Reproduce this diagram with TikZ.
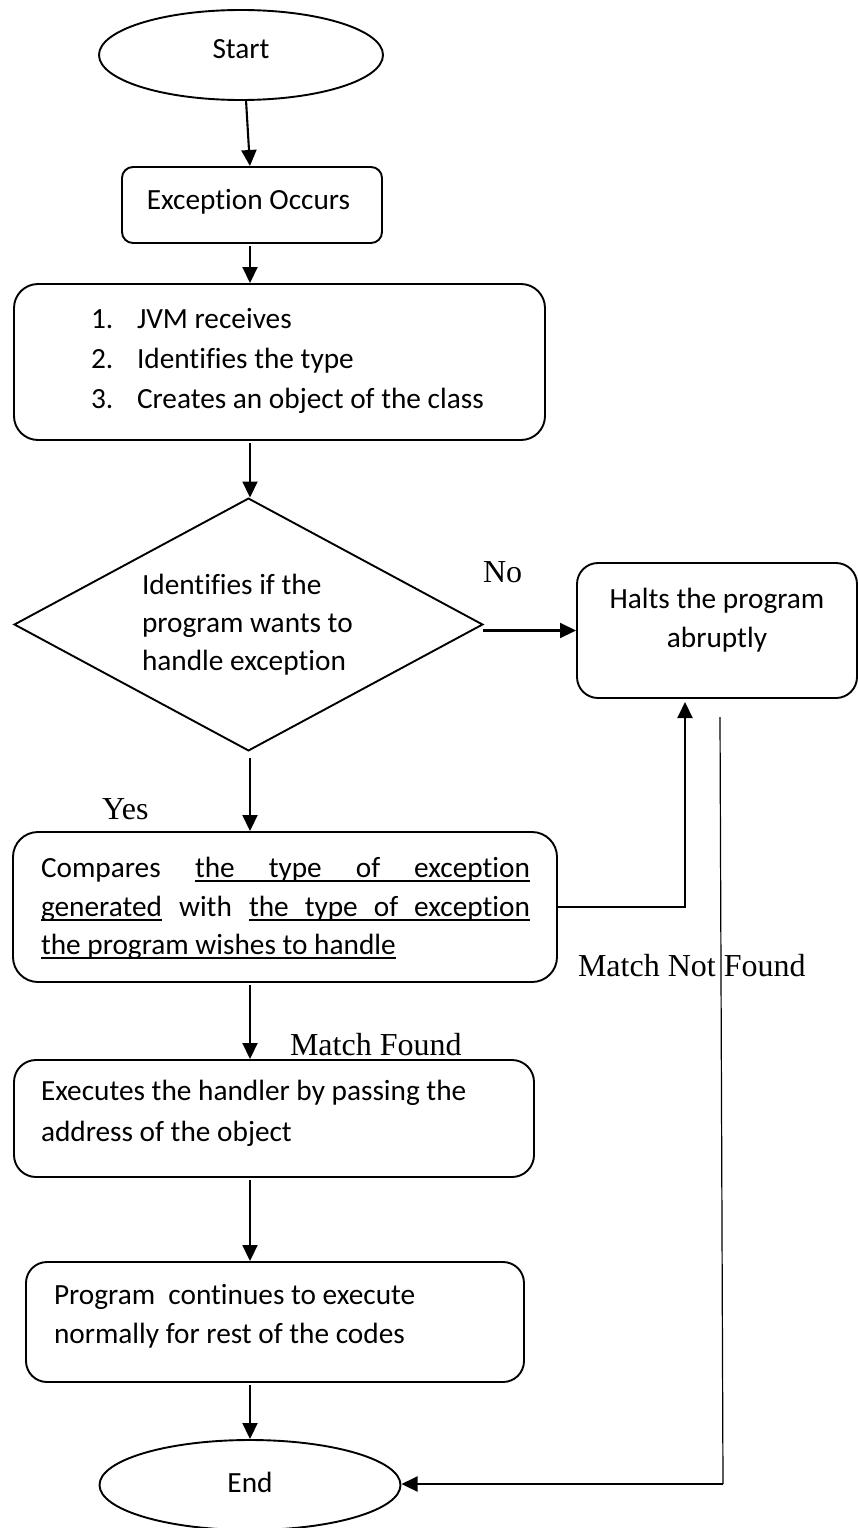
\documentclass[tikz,border=0pt]{standalone}
\usepackage{fontspec}
\setmainfont{Carlito}[Ligatures=NoCommon]
\newfontfamily\tnr{Liberation Serif}
\usetikzlibrary{shapes.geometric,arrows.meta}
% underline at a fixed depth below the baseline
\newcommand\ulbox[1]{\setbox0\hbox{#1}\rlap{\rule[-5pt]{\wd0}{1.8pt}}\box0}

\begin{document}
\begin{tikzpicture}[x=1pt,y=-1pt,
  every node/.style={inner sep=0pt,outer sep=0pt},
  box/.style={draw,line width=1.9pt,rectangle,rounded corners=22pt},
  oval/.style={draw,line width=1.9pt,ellipse},
  arr/.style={line width=2.1pt,-{Triangle[length=16pt,width=15pt]},shorten <=3pt,shorten >=1pt},
  txt/.style={anchor=base west,font=\fontsize{29.3}{39}\selectfont},
  ctxt/.style={anchor=base,font=\fontsize{29.3}{39}\selectfont},
  lbl/.style={anchor=base west,font=\tnr\fontsize{32}{38}\selectfont}]
\useasboundingbox (0,0) rectangle (858,1528);
\fill[white] (0,0) rectangle (858,1528);

\coordinate (col) at (250,0);
\coordinate (nfcol) at (685,0);

% shapes
\node[oval,minimum width=284pt,minimum height=90pt] (start) at (241,55) {};
\node[box,rounded corners=11pt,minimum width=260pt,minimum height=76pt] (exc) at (252,205) {};
\node[box,rounded corners=24pt,minimum width=531pt,minimum height=156pt] (jvm) at (279.5,362) {};
\node[draw,diamond,line width=1.9pt,minimum width=468pt,minimum height=252pt] (dia) at (248.5,624.5) {};
\node[box,rounded corners=21pt,minimum width=280pt,minimum height=135pt] (halts) at (717,630.5) {};
\node[box,rounded corners=25pt,minimum width=544pt,minimum height=150pt] (cmp) at (285,907) {};
\node[box,rounded corners=22pt,minimum width=520pt,minimum height=117pt] (exe) at (274,1118.5) {};
\node[box,rounded corners=21pt,minimum width=498pt,minimum height=120pt] (prog) at (275,1322) {};
\node[oval,minimum width=301pt,minimum height=90pt] (end) at (250,1485) {};

% texts
\node[ctxt] (startt) at (241,59) {Start};
\node[ctxt] (exct) at (248.5,209) {Exception Occurs};
\node[txt] (n1) at (91,328) {1.};
\node[txt] (n2) at (91,368) {2.};
\node[txt] (n3) at (91,408) {3.};
\node[txt] (j1) at (137,328) {JVM receives};
\node[txt] (j2) at (137,368) {Identifies the type};
\node[txt] (j3) at (137,408) {Creates an object of the class};
\node[txt] (d1) at (142,594) {Identifies if the};
\node[txt] (d2) at (142,632) {program wants to};
\node[txt] (d3) at (142,670) {handle exception};
\node[ctxt] (h1) at (717,608) {Halts the program};
\node[ctxt] (h2) at (717,647) {abruptly};
\node[txt] (c1) at (41,877) {\hbox to 489pt{Compares\hfill\ulbox{\makebox[335pt][s]{the type of exception}}}};
\node[txt] (c2) at (41,916) {\hbox to 489pt{\ulbox{generated}\hfill with\hfill\ulbox{\makebox[281pt][s]{the type of exception}}}};
\node[txt] (c3) at (41,954) {\ulbox{the program wishes to handle}};
\node[txt] (e1) at (41,1100) {Executes the handler by passing the};
\node[txt] (e2) at (41,1141) {address of the object};
\node[txt] (p1) at (54,1304) {Program\ \ continues to execute};
\node[txt] (p2) at (54,1343) {normally for rest of the codes};
\node[ctxt] (endt) at (250,1492) {End};

% branch labels
\node[lbl] (no) at (483,582) {No};
\node[lbl] (yes) at (102,819) {Yes};
\node[lbl] (mf) at (290,1055) {Match Found};
\node[lbl] (mnf) at (578,976) {Match Not Found};

% connectors
\draw[arr,shorten <=0pt] ([xshift=5pt]start.south) -- ([xshift=-2pt]exc.north);
\draw[arr] (exc.south -| col) -- (jvm.north -| col);
\draw[arr] (jvm.south -| col) -- (dia.north -| col);
\draw[arr,shorten <=7pt] (dia.south -| col) -- (cmp.north -| col);
\draw[arr,shorten <=0pt] ([yshift=-6pt]dia.east) -- (halts.west);
\draw[arr,shorten <=0pt,shorten >=4pt] (cmp.east) -| (halts.south -| nfcol);
\draw[arr] (cmp.south -| col) -- (exe.north -| col);
\draw[arr] (exe.south -| col) -- (prog.north -| col);
\draw[arr] (prog.south -| col) -- (end.north -| col);

\coordinate (nfa) at (720,717);
\coordinate (nfb) at (723,1484);
\draw[line width=1.2pt] (nfa) -- (nfb);
\draw[arr,shorten <=0pt] (nfb) -- (nfb -| end.east);
\end{tikzpicture}
\end{document}
